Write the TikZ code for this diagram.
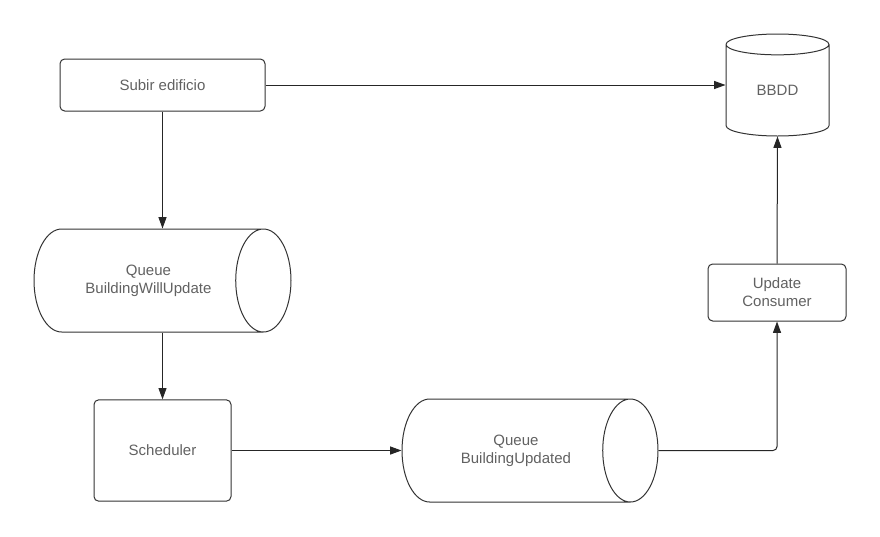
\documentclass[tikz,border=0pt]{standalone}
\usepackage{fontspec}
\setmainfont{Liberation Sans}
\usetikzlibrary{shapes.geometric,arrows.meta}
\tikzset{
  caja/.style={draw=black!80,rounded corners=3.5pt,line width=0.75pt,text=black!62,align=center,inner sep=0pt},
  cola/.style={cylinder,draw=black!80,line width=0.75pt,text=black!62,align=center,inner sep=0pt,aspect=1.75},
  flecha/.style={->,draw=black!85,line width=0.75pt}
}
\begin{document}
\begin{tikzpicture}[x=0.75pt,y=-0.75pt,>={Triangle[length=8.5pt,width=6pt]},
  font=\fontsize{11.25}{13.5}\selectfont]
	\useasboundingbox (0,0) rectangle (880,536);
	\node[caja,minimum width=153.75pt,minimum height=39pt] (sube) at (162.5,85) {Subir edificio};
	\node[cola,shape border rotate=90,aspect=0.5,minimum width=77.25pt,minimum height=76.5pt,anchor=shape center] (bbdd) at (777.5,85) {BBDD};
	\node[cola,minimum width=77.25pt,minimum height=192.75pt,anchor=shape center] (colaWill) at (162.5,280.5) {Queue\\BuildingWillUpdate};
	\node[caja,minimum width=102.75pt,minimum height=76pt] (sched) at (162.5,450.5) {Scheduler};
	\node[cola,minimum width=77.25pt,minimum height=192pt,anchor=shape center] (colaUpd) at (530,450.5) {Queue\\BuildingUpdated};
	\node[caja,minimum width=103.5pt,minimum height=42.75pt] (consumer) at (777,292.5) {Update\\Consumer};
	% conexiones
	\draw[flecha] (sube.east) -- (sube.east -| bbdd.west);
	\draw[flecha] (sube.south) -- (sube.south |- colaWill.north);
	\draw[flecha] (sched.north |- colaWill.south) -- (sched.north);
	\draw[flecha] (sched.east) -- (sched.east -| colaUpd.west);
	\draw[flecha,rounded corners=3pt] (colaUpd.top) -| (consumer.south);
	\draw[flecha] (consumer.north) -- (bbdd.bottom);
\end{tikzpicture}
\end{document}
